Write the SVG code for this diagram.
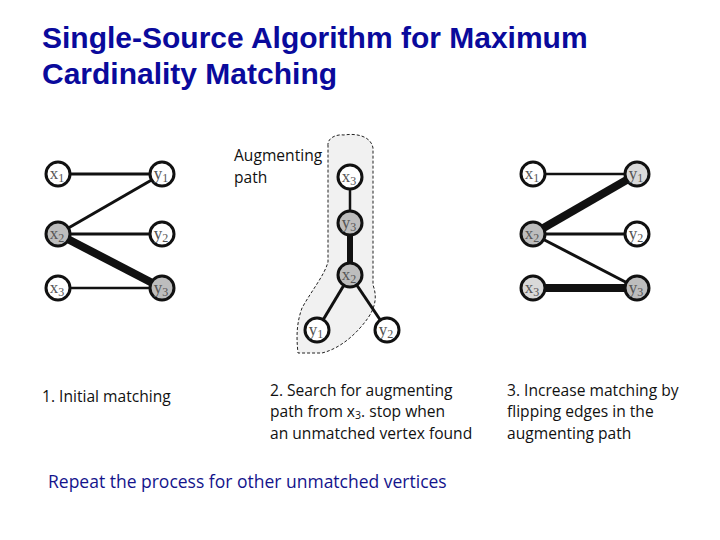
<svg xmlns="http://www.w3.org/2000/svg" width="720" height="540" viewBox="0 0 720 540">
<style>
.title{font-family:"Liberation Sans",Arial,sans-serif;font-weight:bold;font-size:30px;fill:#0a0a9c}
.lbl{font-family:"Open Sans","Liberation Sans",sans-serif;font-size:15.6px;fill:#111}
.blue{font-family:"Open Sans","Liberation Sans",sans-serif;font-size:17.5px;fill:#14148c}
.n circle{stroke:#111;stroke-width:3}
.w{fill:#fff}.g{fill:#bdbdbd}.lg{fill:#d9d9d9}
.n text{font-family:"Liberation Serif","Times New Roman",serif;font-size:17px;fill:#555;text-anchor:middle}
.n text tspan.s{font-size:12px}
.e line{stroke:#111;stroke-linecap:butt}
</style>
<rect width="720" height="540" fill="#fff"/>
<text class="title" x="42" y="48">Single-Source Algorithm for Maximum</text>
<text class="title" x="42" y="84">Cardinality Matching</text>

<path id="blob" d="M328,146 C327,138 336,134 344,135 C356,133 371,136 373,148 L373,285 C377,296 376,306 368,318 C358,332 342,348 322,353 L298,353 C296,335 297,322 302,308 C312,290 324,276 328,262 Z" fill="#f1f1f1" stroke="#222" stroke-width="1" stroke-dasharray="3,2"/>

<g id="connectors" class="e">
<line x1="58" y1="174" x2="162" y2="174" stroke-width="3"/>
<line x1="58" y1="234" x2="162" y2="174" stroke-width="3"/>
<line x1="58" y1="234" x2="162" y2="234" stroke-width="3"/>
<line x1="58" y1="234" x2="162" y2="288" stroke-width="8"/>
<line x1="58" y1="288" x2="162" y2="288" stroke-width="2.5"/>

<line x1="350" y1="177" x2="350" y2="223" stroke-width="2.5"/>
<line x1="350" y1="223" x2="350" y2="275" stroke-width="6"/>
<line x1="350" y1="275" x2="317" y2="330" stroke-width="3"/>
<line x1="350" y1="275" x2="387" y2="330" stroke-width="3"/>

<line x1="533" y1="174" x2="637" y2="174" stroke-width="2.5"/>
<line x1="533" y1="234" x2="637" y2="174" stroke-width="8"/>
<line x1="533" y1="234" x2="637" y2="234" stroke-width="3"/>
<line x1="533" y1="234" x2="637" y2="288" stroke-width="3"/>
<line x1="533" y1="288" x2="637" y2="288" stroke-width="8"/>
</g>

<g id="L_x1" class="n"><circle class="w" cx="58" cy="174" r="12"/><text x="57" y="179">x<tspan class="s" dy="3">1</tspan></text></g>
<g id="L_y1" class="n"><circle class="w" cx="162" cy="174" r="12"/><text x="161" y="179">y<tspan class="s" dy="3">1</tspan></text></g>
<g id="L_x2" class="n"><circle class="g" cx="58" cy="234" r="12"/><text x="57" y="239">x<tspan class="s" dy="3">2</tspan></text></g>
<g id="L_y2" class="n"><circle class="w" cx="162" cy="234" r="12"/><text x="161" y="239">y<tspan class="s" dy="3">2</tspan></text></g>
<g id="L_x3" class="n"><circle class="w" cx="58" cy="288" r="12"/><text x="57" y="293">x<tspan class="s" dy="3">3</tspan></text></g>
<g id="L_y3" class="n"><circle class="g" cx="162" cy="288" r="12"/><text x="161" y="293">y<tspan class="s" dy="3">3</tspan></text></g>

<g id="M_x3" class="n"><circle class="w" cx="350" cy="177" r="12"/><text x="349" y="182">x<tspan class="s" dy="3">3</tspan></text></g>
<g id="M_y3" class="n"><circle class="g" cx="350" cy="223" r="12"/><text x="349" y="228">y<tspan class="s" dy="3">3</tspan></text></g>
<g id="M_x2" class="n"><circle class="g" cx="350" cy="275" r="12"/><text x="349" y="280">x<tspan class="s" dy="3">2</tspan></text></g>
<g id="M_y1" class="n"><circle class="w" cx="317" cy="330" r="12"/><text x="316" y="335">y<tspan class="s" dy="3">1</tspan></text></g>
<g id="M_y2" class="n"><circle class="w" cx="387" cy="330" r="12"/><text x="386" y="335">y<tspan class="s" dy="3">2</tspan></text></g>

<g id="R_x1" class="n"><circle class="w" cx="533" cy="174" r="12"/><text x="532" y="179">x<tspan class="s" dy="3">1</tspan></text></g>
<g id="R_y1" class="n"><circle class="lg" cx="637" cy="174" r="12"/><text x="636" y="179">y<tspan class="s" dy="3">1</tspan></text></g>
<g id="R_x2" class="n"><circle class="g" cx="533" cy="234" r="12"/><text x="532" y="239">x<tspan class="s" dy="3">2</tspan></text></g>
<g id="R_y2" class="n"><circle class="w" cx="637" cy="234" r="12"/><text x="636" y="239">y<tspan class="s" dy="3">2</tspan></text></g>
<g id="R_x3" class="n"><circle class="lg" cx="533" cy="288" r="12"/><text x="532" y="293">x<tspan class="s" dy="3">3</tspan></text></g>
<g id="R_y3" class="n"><circle class="g" cx="637" cy="288" r="12"/><text x="636" y="293">y<tspan class="s" dy="3">3</tspan></text></g>

<text class="lbl" x="234" y="161">Augmenting</text>
<text class="lbl" x="234" y="183">path</text>
<text class="lbl" x="42" y="402">1. Initial matching</text>
<text class="lbl" x="270" y="396">2. Search for augmenting</text>
<text class="lbl" x="270" y="417">path from x<tspan font-size="10.5" dy="2">3</tspan><tspan dy="-2">. stop when</tspan></text>
<text class="lbl" x="270" y="439">an unmatched vertex found</text>
<text class="lbl" x="507" y="396">3. Increase matching by</text>
<text class="lbl" x="507" y="417">flipping edges in the</text>
<text class="lbl" x="507" y="439">augmenting path</text>
<text class="blue" x="48" y="488">Repeat the process for other unmatched vertices</text>
</svg>
